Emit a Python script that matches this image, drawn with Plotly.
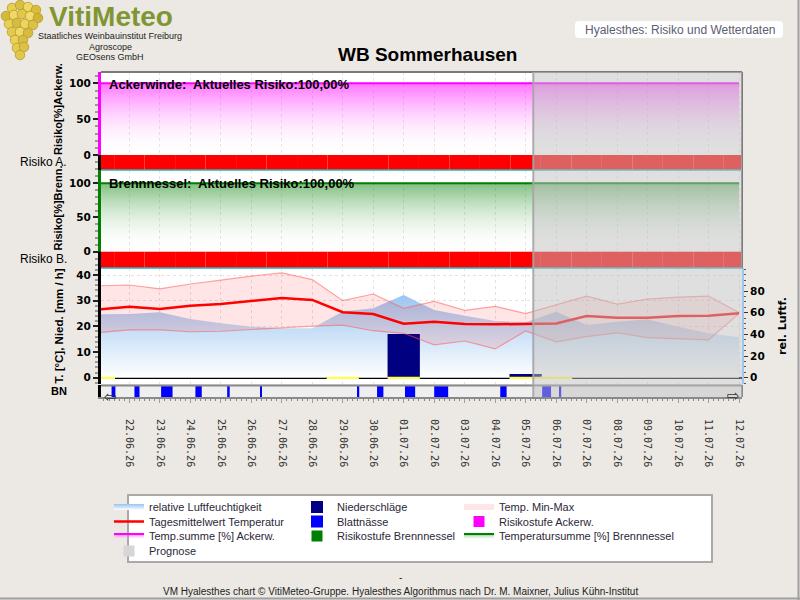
import pandas as pd
import plotly.graph_objects as go

# ---------------- data ----------------
dates = ["2026-06-21", "2026-06-22", "2026-06-23", "2026-06-24", "2026-06-25", "2026-06-26",
         "2026-06-27", "2026-06-28", "2026-06-29", "2026-06-30", "2026-07-01", "2026-07-02",
         "2026-07-03", "2026-07-04", "2026-07-05", "2026-07-06", "2026-07-07", "2026-07-08",
         "2026-07-09", "2026-07-10", "2026-07-11", "2026-07-12"]
temp_mean = [26.6, 27.6, 26.8, 28.0, 28.7, 29.8, 31.0, 30.3, 25.5, 24.8, 21.0,
             21.8, 20.9, 20.8, 21.0, 21.1, 24.0, 23.4, 23.4, 24.0, 24.1, 25.1]
temp_max = [35.8, 36.1, 34.6, 36.5, 38.0, 39.6, 40.8, 38.2, 30.0, 32.6, 27.0,
            29.7, 26.2, 27.8, 25.0, 28.5, 31.8, 28.7, 30.6, 31.4, 31.8, 25.4]
temp_min = [17.6, 18.6, 18.6, 17.9, 18.1, 18.8, 19.6, 20.1, 20.5, 18.3, 17.3,
            12.8, 14.3, 11.2, 18.2, 14.0, 16.0, 17.5, 15.6, 15.1, 14.7, 25.0]
rel_humidity = [58.5, 58.8, 60.4, 54.2, 50.2, 47.1, 45.6, 45.6, 61.0, 64.0, 76.4,
                62.5, 57.2, 52.4, 51.1, 60.8, 48.7, 51.7, 53.9, 47.1, 41.0, 37.3]
precipitation = [0.1, 0.0, 0.0, 0.0, 0.0, 0.0, 0.0, 0.0, 0.1, 0.0, 17.0,
                 0.0, 0.0, 0.0, 1.4, 0.1, 0.0, 0.0, 0.0, 0.0, 0.0, 0.0]
temp_sum_ackerwinde = [100.0, 100.0, 100.0, 100.0, 100.0, 100.0, 100.0, 100.0, 100.0, 100.0, 100.0,
                       100.0, 100.0, 100.0, 100.0, 100.0, 100.0, 100.0, 100.0, 100.0, 100.0, 100.0]
temp_sum_brennnessel = [100.0, 100.0, 100.0, 100.0, 100.0, 100.0, 100.0, 100.0, 100.0, 100.0, 100.0,
                        100.0, 100.0, 100.0, 100.0, 100.0, 100.0, 100.0, 100.0, 100.0, 100.0, 100.0]
risk_level_ackerwinde = [3, 3, 3, 3, 3, 3, 3, 3, 3, 3, 3, 3, 3, 3, 3, 3, 3, 3, 3, 3, 3, 3]
risk_level_brennnessel = [3, 3, 3, 3, 3, 3, 3, 3, 3, 3, 3, 3, 3, 3, 3, 3, 3, 3, 3, 3, 3, 3]
leaf_wet_start = ["2026-06-21 10:00", "2026-06-22 04:00", "2026-06-23 01:00", "2026-06-24 04:00",
                  "2026-06-25 05:00", "2026-06-26 07:00", "2026-06-29 12:00", "2026-06-30 03:00",
                  "2026-07-01 01:00", "2026-07-02 00:00", "2026-07-04 04:00", "2026-07-05 13:00",
                  "2026-07-06 03:00"]
leaf_wet_hours = [3, 4, 9, 5, 2, 1, 1, 5, 8, 11, 5, 7, 1]
prognose_start = "2026-07-05 06:00"
x_start = "2026-06-21 01:40"
x_end = "2026-07-12 02:20"
current_risk_ackerwinde = "100,00%"
current_risk_brennnessel = "100,00%"
station = "WB Sommerhausen"

risk_colors = {0: "#00b000", 1: "#ffff00", 2: "#ff8000", 3: "#ff0000"}

# ---------------- geometry helpers ----------------
W, H = 800, 600
ML, MR, MT, MB = 101, 58, 72, 203
PW, PH = W - ML - MR, H - MT - MB


def px_x(px):
    return (px - ML) / PW


def px_y(py):
    return (H - MB - py) / PH


DAY = 86400000
SANS = "Liberation Sans, Arial, sans-serif"
DJ = "DejaVu Sans, Verdana, sans-serif"
tickfont = dict(family=DJ, size=10.5, color="black", weight="bold")
GRID = "#e3e3e3"

# derived series
bn_centers = [(pd.Timestamp(s) + pd.Timedelta(hours=h / 2)).strftime("%Y-%m-%d %H:%M")
              for s, h in zip(leaf_wet_start, leaf_wet_hours)]
bn_widths = [h * 3600000 for h in leaf_wet_hours]
rain_days = [d for d, p in zip(dates, precipitation) if p > 0]
band_x = dates + dates[::-1]
band_y = temp_max + temp_min[::-1]

fig = go.Figure()

# ---- panel 1: Ackerwinde ----
fig.add_trace(go.Scatter(
    x=dates, y=temp_sum_ackerwinde, mode="lines", xaxis="x", yaxis="y",
    line=dict(color="#ff00ff", width=2), fill="tozeroy",
    fillgradient=dict(type="vertical", start=0, stop=100,
                      colorscale=[[0, "rgba(255,255,255,0)"], [1, "rgba(255,0,255,0.55)"]]),
    name="Temp.summe [%] Ackerw.", legend="legend3"))
fig.add_trace(go.Bar(
    x=dates, y=[-30] * len(risk_level_ackerwinde), base=0, width=DAY, xaxis="x", yaxis="y",
    marker=dict(color=[risk_colors[v] for v in risk_level_ackerwinde], line=dict(width=0)),
    showlegend=False, hoverinfo="skip"))

# ---- panel 2: Brennnessel ----
fig.add_trace(go.Scatter(
    x=dates, y=temp_sum_brennnessel, mode="lines", xaxis="x2", yaxis="y2",
    line=dict(color="#008000", width=2), fill="tozeroy",
    fillgradient=dict(type="vertical", start=0, stop=100,
                      colorscale=[[0, "rgba(255,255,255,0)"], [1, "rgba(0,128,0,0.5)"]]),
    name="Temperatursumme [%] Brennnessel", legend="legend10"))
fig.add_trace(go.Bar(
    x=dates, y=[-30] * len(risk_level_brennnessel), base=0, width=DAY, xaxis="x2", yaxis="y2",
    marker=dict(color=[risk_colors[v] for v in risk_level_brennnessel], line=dict(width=0)),
    showlegend=False, hoverinfo="skip"))

# ---- panel 3: weather ----
fig.add_trace(go.Scatter(
    x=dates, y=rel_humidity, mode="none", xaxis="x3", yaxis="y3", fill="tozeroy",
    fillgradient=dict(type="vertical", start=0, stop=80,
                      colorscale=[[0, "rgba(255,255,255,1)"], [1, "rgba(150,195,240,1)"]]),
    name="relative Luftfeuchtigkeit", legend="legend"))
fig.add_trace(go.Scatter(
    x=band_x, y=band_y, mode="none", xaxis="x3", yaxis="y4", fill="toself",
    fillcolor="rgba(255,0,0,0.1)", name="Temp. Min-Max", legend="legend8"))
fig.add_trace(go.Scatter(
    x=dates, y=temp_max, mode="lines", xaxis="x3", yaxis="y4",
    line=dict(color="rgba(255,90,90,0.55)", width=1.2), showlegend=False))
fig.add_trace(go.Scatter(
    x=dates, y=temp_min, mode="lines", xaxis="x3", yaxis="y4",
    line=dict(color="rgba(255,90,90,0.55)", width=1.2), showlegend=False))
fig.add_trace(go.Bar(
    x=dates, y=precipitation, width=DAY * 1.06, xaxis="x3", yaxis="y4",
    marker=dict(color="#000080", line=dict(width=0)), name="Niederschläge", legend="legend5"))
fig.add_trace(go.Bar(
    x=rain_days, y=[0.7] * len(rain_days), base=-0.35, width=DAY * 1.06, xaxis="x3", yaxis="y4",
    marker=dict(color="#ffff50", line=dict(width=0)), showlegend=False, hoverinfo="skip"))
fig.add_trace(go.Scatter(
    x=dates, y=temp_mean, mode="lines", xaxis="x3", yaxis="y4",
    line=dict(color="#ff0000", width=2.5), name="Tagesmittelwert Temperatur", legend="legend2"))

# ---- BN strip (Blattnässe) ----
fig.add_trace(go.Bar(
    x=bn_centers, y=[1] * len(bn_centers), width=bn_widths, xaxis="x4", yaxis="y5",
    marker=dict(color="#0000ff", line=dict(width=0)), name="Blattnässe", legend="legend6"))

# ---- legend-only proxies ----
fig.add_trace(go.Scatter(x=[None], y=[None], mode="markers", xaxis="x4", yaxis="y5",
                         marker=dict(symbol="square", size=11, color="#d6d6d6"),
                         name="Prognose", legend="legend4"))
fig.add_trace(go.Scatter(x=[None], y=[None], mode="markers", xaxis="x4", yaxis="y5",
                         marker=dict(symbol="square", size=11, color="#008000"),
                         name="Risikostufe Brennnessel", legend="legend7"))
fig.add_trace(go.Scatter(x=[None], y=[None], mode="markers", xaxis="x4", yaxis="y5",
                         marker=dict(symbol="square", size=11, color="#ff00ff"),
                         name="Risikostufe Ackerw.", legend="legend9"))

# ---------------- axes ----------------
common_x = dict(type="date", range=[x_start, x_end], tick0="2026-06-22", dtick=DAY,
                showgrid=True, gridcolor=GRID, griddash="dot", gridwidth=1,
                showticklabels=False, ticks="", zeroline=False, showline=False)
left_y = dict(ticks="outside", ticklen=5, tickcolor="#222", tickwidth=1.5, tickfont=tickfont,
              showgrid=False, zeroline=False, showline=True, linecolor="black", linewidth=3,
              tick0=0)

lay = dict(
    width=W, height=H, margin=dict(l=ML, r=MR, t=MT, b=MB, pad=0),
    paper_bgcolor="#ECE9E4", plot_bgcolor="white", barmode="overlay",
    xaxis=dict(common_x, anchor="y", domain=[0, 1]),
    xaxis2=dict(common_x, anchor="y2", domain=[0, 1]),
    xaxis3=dict(common_x, anchor="y3", domain=[0, 1]),
    xaxis4=dict(common_x, anchor="y5", domain=[0, 1], showgrid=False, showticklabels=True,
                tickformat="%d.%m.%y", tickangle=90, ticks="outside", ticklen=4,
                tickcolor="#a0a0a0", ticklabelstandoff=14,
                tickfont=dict(family="DejaVu Sans Mono, monospace", size=10, color="#333"),
                minor=dict(dtick=4 * 3600000, ticks="outside", ticklen=2, tickcolor="#888"),
                showline=True, linecolor="#8a8a8a", linewidth=2),
    yaxis=dict(left_y, domain=[px_y(170), 1], range=[-20.9, 115.8], dtick=50,
               minor=dict(dtick=10, ticks="outside", ticklen=3, tickcolor="#999")),
    yaxis2=dict(left_y, domain=[px_y(268), px_y(170)], range=[-23.8, 119.4], dtick=50,
                minor=dict(dtick=10, ticks="outside", ticklen=3, tickcolor="#999")),
    yaxis3=dict(domain=[px_y(384), px_y(268)], range=[-5.81, 101.22], side="right", anchor="x3",
                tickvals=[0, 20, 40, 60, 80], ticks="outside", ticklen=4, tickcolor="#333",
                tickfont=tickfont, showgrid=False, zeroline=False,
                showline=True, linecolor="#9ec5ee", linewidth=2,
                minor=dict(dtick=5, tick0=0, ticks="outside", ticklen=2, tickcolor="#555"),
                title=dict(text="rel. Luftf.", standoff=15,
                           font=dict(family=DJ, size=11, color="black", weight="bold"))),
    yaxis4=dict(left_y, overlaying="y3", side="left", anchor="x3", range=[-2.45, 42.73],
                dtick=10, showgrid=True, gridcolor=GRID, griddash="dot",
                zeroline=True, zerolinecolor="black", zerolinewidth=1.5,
                minor=dict(dtick=2, ticks="outside", ticklen=3, tickcolor="#999")),
    yaxis5=dict(domain=[0, px_y(385)], range=[0, 1], anchor="x4", showticklabels=False,
                ticks="", showgrid=False, zeroline=False, showline=True,
                linecolor="black", linewidth=3),
)

# ---------------- legends (one per cell of the 3-column key) ----------------
leg_rows = [507, 521.5, 536, 551]
leg_cols = [149, 337, 499]
leg_cells = {"legend": (0, 0), "legend2": (0, 1), "legend3": (0, 2), "legend4": (0, 3),
             "legend5": (1, 0), "legend6": (1, 1), "legend7": (1, 2),
             "legend8": (2, 0), "legend9": (2, 1), "legend10": (2, 2)}
for key, (c, r) in leg_cells.items():
    lay[key] = dict(x=px_x(leg_cols[c] - 40), y=px_y(leg_rows[r]), xanchor="left",
                    yanchor="middle", bgcolor="rgba(0,0,0,0)", borderwidth=0,
                    font=dict(family=SANS, size=11, color="#2b2838"), itemclick=False,
                    itemdoubleclick=False)

# ---------------- decoration shapes ----------------
shapes = []
# BN strip background + borders
shapes.append(dict(type="rect", xref="paper", yref="paper", x0=0, x1=1, y0=0, y1=px_y(385),
                   fillcolor="#efefef", line=dict(width=0), layer="below"))
shapes.append(dict(type="line", xref="paper", yref="paper", x0=0, x1=1, y0=px_y(385.5),
                   y1=px_y(385.5), line=dict(color="#8a8a8a", width=2)))
shapes.append(dict(type="line", xref="paper", yref="paper", x0=1, x1=1, y0=0, y1=px_y(385),
                   line=dict(color="#8a8a8a", width=2)))
# panel frames
shapes.append(dict(type="line", xref="paper", yref="paper", x0=0, x1=1, y0=1, y1=1,
                   line=dict(color="#7a7a7a", width=2)))
shapes.append(dict(type="line", xref="paper", yref="paper", x0=1, x1=1, y0=px_y(268), y1=1,
                   line=dict(color="#7a7a7a", width=2)))
for yy in (170, 268):
    shapes.append(dict(type="line", xref="paper", yref="paper", x0=0, x1=1, y0=px_y(yy),
                       y1=px_y(yy), line=dict(color="#27b3bd", width=1.5)))
# coloured left axis parts
shapes.append(dict(type="line", xref="paper", yref="y", x0=px_x(99.5), x1=px_x(99.5),
                   y0=0, y1=115.8, line=dict(color="#ff00ff", width=3)))
shapes.append(dict(type="line", xref="paper", yref="y2", x0=px_x(99.5), x1=px_x(99.5),
                   y0=0, y1=119.4, line=dict(color="#008000", width=3)))
# forecast (Prognose) area
shapes.append(dict(type="rect", xref="x", yref="paper", x0=prognose_start, x1=x_end, y0=0, y1=1,
                   fillcolor="rgba(192,192,192,0.5)", line=dict(width=0), layer="above"))
shapes.append(dict(type="line", xref="x", yref="paper", x0=prognose_start, x1=prognose_start,
                   y0=0, y1=1, line=dict(color="rgba(165,165,165,0.9)", width=2), layer="above"))
# legend box
shapes.append(dict(type="rect", xref="paper", yref="paper", x0=px_x(128), x1=px_x(712),
                   y0=px_y(562), y1=px_y(495), fillcolor="white",
                   line=dict(color="#a9a9a9", width=2), layer="below"))
# header label box (rounded)
bx0, bx1, by0, by1, rr = 575, 783, 21, 38, 4
path = (f"M {px_x(bx0 + rr)},{px_y(by0)} L {px_x(bx1 - rr)},{px_y(by0)} "
        f"Q {px_x(bx1)},{px_y(by0)} {px_x(bx1)},{px_y(by0 + rr)} L {px_x(bx1)},{px_y(by1 - rr)} "
        f"Q {px_x(bx1)},{px_y(by1)} {px_x(bx1 - rr)},{px_y(by1)} L {px_x(bx0 + rr)},{px_y(by1)} "
        f"Q {px_x(bx0)},{px_y(by1)} {px_x(bx0)},{px_y(by1 - rr)} L {px_x(bx0)},{px_y(by0 + rr)} "
        f"Q {px_x(bx0)},{px_y(by0)} {px_x(bx0 + rr)},{px_y(by0)} Z")
shapes.append(dict(type="path", xref="paper", yref="paper", path=path, fillcolor="white",
                   line=dict(width=0), layer="below"))
# page edge
shapes.append(dict(type="line", xref="paper", yref="paper", x0=px_x(798.5), x1=px_x(798.5),
                   y0=px_y(600), y1=px_y(0), line=dict(color="#a0a0a0", width=2)))
shapes.append(dict(type="line", xref="paper", yref="paper", x0=px_x(0), x1=px_x(800),
                   y0=px_y(598.5), y1=px_y(598.5), line=dict(color="#a0a0a0", width=2)))
# grape cluster of the logo
grapes = [(12, 8, "#e6cf4e"), (20, 5, "#d9c040"), (28, 7, "#eed860"), (36, 10, "#d8bc3a"),
          (6, 16, "#d5b938"), (14, 15, "#efd964"), (22, 14, "#e2c84a"), (30, 16, "#f0dc6a"),
          (38, 18, "#d2b535"), (9, 24, "#e8d055"), (17, 23, "#d7bd3e"), (25, 24, "#ecd55c"),
          (33, 25, "#dcc244"), (12, 32, "#e4ca4c"), (20, 32, "#f0da66"), (28, 33, "#d6bb3c"),
          (15, 40, "#e9d258"), (23, 40, "#d8be40"), (17, 48, "#e5cc50"), (24, 47, "#dcc144"),
          (20, 55, "#e2c84a")]
for gx, gy, gc in grapes:
    shapes.append(dict(type="circle", xref="paper", yref="paper",
                       x0=px_x(gx - 4.8), x1=px_x(gx + 4.8), y0=px_y(gy + 4.8), y1=px_y(gy - 4.8),
                       fillcolor=gc, line=dict(color="#b89a2c", width=0.8), layer="below"))
lay["shapes"] = shapes


# ---------------- texts ----------------
def ann(text, x, y, size, family=SANS, color="black", xa="center", ya="middle", angle=0,
        weight="normal", **kw):
    d = dict(text=text, xref="paper", yref="paper", x=px_x(x), y=px_y(y), xanchor=xa,
             yanchor=ya, showarrow=False, textangle=angle,
             font=dict(family=family, size=size, color=color, weight=weight))
    d.update(kw)
    return d


anns = [
    ann(station, 427, 54, 19, weight="bold"),
    ann(f"Ackerwinde:  Aktuelles Risiko:{current_risk_ackerwinde}", 107, 84, 13, xa="left",
        weight="bold"),
    ann(f"Brennnessel:  Aktuelles Risiko:{current_risk_brennnessel}", 107, 183, 13, xa="left",
        weight="bold"),
    ann("Risiko A.", 69, 162, 12, xa="right"),
    ann("Risiko B.", 69, 259, 12, xa="right"),
    ann("BN", 69, 391, 11, xa="right", weight="bold"),
    ann("Risiko[%]Ackerw.", 58, 157, 11, ya="bottom", angle=-90, weight="bold"),
    ann("Risiko[%]Brenn.", 58, 253, 11, ya="bottom", angle=-90, weight="bold"),
    ann("T. [°C], Nied. [mm / h]", 58, 386, 11.5, ya="bottom", angle=-90, weight="bold"),
    ann("Hyalesthes: Risiko und Wetterdaten", 680, 29.5, 12, color="#5d5d70"),
    ann("VitiMeteo", 111, 16, 28, color="#7f9632", weight="bold"),
    ann("Staatliches Weinbauinstitut Freiburg", 110, 36.5, 9, color="#222"),
    ann("Agroscope", 110, 47, 9, color="#222"),
    ann("GEOsens GmbH", 110, 57.5, 9, color="#222"),
    ann("-", 400, 577, 10, color="#222"),
    ann("VM Hyalesthes chart © VitiMeteo-Gruppe. Hyalesthes Algorithmus nach Dr. M. Maixner, "
        "Julius Kühn-Institut", 400, 591, 10, color="#222"),
    ann("⇦", 110, 397, 15, family=DJ, color="#333"),
    ann("⇨", 733, 396, 15, family=DJ, color="#333"),
]
lay["annotations"] = anns

fig.update_layout(**lay)
fig.write_html("out.html")
